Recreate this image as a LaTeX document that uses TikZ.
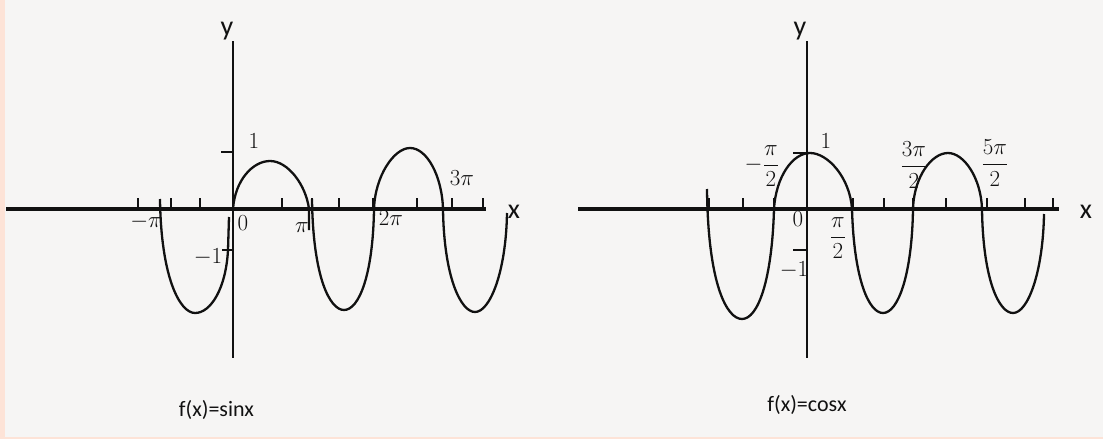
\documentclass[tikz,border=0pt]{standalone}
\usepackage{amsmath}
\usepackage{graphicx}
\usepackage{fontspec}
\newfontfamily\carlito{Carlito}
\usetikzlibrary{arrows.meta}
\definecolor{bgcol}{HTML}{F6F5F4}
\definecolor{edgecol}{HTML}{FDE3D7}
\definecolor{ink}{HTML}{111111}
\newcommand{\bigmath}[1]{\scalebox{1.33}{\fontsize{17.28}{20}\selectfont #1}}
\tikzset{
  axisline/.style={line width=3.4pt, draw=ink},
  yaxisline/.style={line width=2.2pt, draw=ink},
  tickmark/.style={line width=2pt, draw=ink},
  wave/.style={line width=2.3pt, draw=ink},
  numlab/.style={inner sep=0pt, text=ink},
  axlab/.style={font=\carlito\fontsize{28}{30}\selectfont, inner sep=0pt, text=ink},
  captionlab/.style={font=\carlito\fontsize{22}{26}\selectfont, inner sep=0pt, text=ink}
}
\begin{document}
\begin{tikzpicture}[x=1pt,y=-1pt]
\fill[edgecol] (0,0) rectangle (1103,439);
\fill[bgcol] (5,0) rectangle (1103,437);
\useasboundingbox (0,0) rectangle (1103,439);

% ---------- left graph: sin ----------
\coordinate (LxA) at (6,209);
\coordinate (LxB) at (486,209);
\coordinate (LyA) at (233,41);
\coordinate (LyB) at (233,358);
\draw[axisline] (LxA) -- (LxB);
\draw[yaxisline] (LyA) -- (LyB);
\foreach \t in {138,171,200,282,312,339,373,417,452,483}
  \draw[tickmark] (\t,198) -- (\t,209);
\draw[tickmark] (221,152) -- (233,152);
\draw[tickmark] (222,250) -- (233,250);

\draw[wave] (160,199) .. controls (161,278) and (180,313) .. (195,313)
  .. controls (211,313) and (226,288) .. (228,250) -- (229,217);
\draw[wave] (233,209) .. controls (235,180) and (253,161) .. (270,161)
  .. controls (288,161) and (306,185) .. (309,209) -- (309,230);
\draw[wave] (312,199) .. controls (313,278) and (330,310) .. (344,310)
  .. controls (359,310) and (373,275) .. (374,209)
  .. controls (375,176) and (394,148) .. (410,148)
  .. controls (427,148) and (442,176) .. (443,209)
  .. controls (444,278) and (461,312) .. (475,312)
  .. controls (490,312) and (506,272) .. (507,213);

\node[axlab] (Ly) at (227,31) {y};
\node[axlab] (Lx) at (514,212) {x};
\node[numlab] (L1) at (254,141) {\bigmath{1}};
\node[numlab] (Lm1) at (208,257) {\bigmath{$-1$}};
\node[numlab] (L0) at (243,223) {\bigmath{0}};
\node[numlab] (Lmpi) at (146,222) {\bigmath{$-\pi$}};
\node[numlab] (Lpi) at (302,228) {\bigmath{$\pi$}};
\node[numlab] (L2pi) at (391,218) {\bigmath{$2\pi$}};
\node[numlab] (L3pi) at (462,178) {\bigmath{$3\pi$}};
\node[captionlab] (Lcap) at (216.5,410) {f(x)=sinx};

% ---------- right graph: cos ----------
\coordinate (RxA) at (578,209);
\coordinate (RxB) at (1059,209);
\coordinate (RyA) at (807,41);
\coordinate (RyB) at (807,358);
\draw[axisline] (RxA) -- (RxB);
\draw[yaxisline] (RyA) -- (RyB);
\foreach \t in {709,743,774,853,884,913,946,987,1025,1053}
  \draw[tickmark] (\t,198) -- (\t,209);
\draw[tickmark] (793,153) -- (807,153);
\draw[tickmark] (793,250) -- (807,250);

\draw[wave] (707,189) .. controls (708,285) and (727,319) .. (742,319)
  .. controls (758,319) and (772,280) .. (774,209)
  .. controls (776,176) and (793,153) .. (810,153)
  .. controls (828,153) and (850,178) .. (852,209)
  .. controls (854,280) and (869,313) .. (883,313)
  .. controls (898,313) and (912,275) .. (913,209)
  .. controls (914,176) and (932,153) .. (948,153)
  .. controls (964,153) and (981,178) .. (982,209)
  .. controls (983,280) and (999,313) .. (1013,313)
  .. controls (1028,313) and (1043,272) .. (1044,214);

\node[axlab] (Ry) at (800,31) {y};
\node[axlab] (Rx) at (1086,212) {x};
\node[numlab] (R1) at (826,141) {\bigmath{1}};
\node[numlab] (Rm1) at (794,270) {\bigmath{$-1$}};
\node[numlab] (R0) at (798,219) {\bigmath{0}};
\node[numlab] (Rmpi2) at (762,166) {\bigmath{$-\dfrac{\pi}{2}$}};
\node[numlab] (Rpi2) at (838,238) {\bigmath{$\dfrac{\pi}{2}$}};
\node[numlab] (R3pi2) at (914,165) {\bigmath{$\dfrac{3\pi}{2}$}};
\node[numlab] (R5pi2) at (995,163) {\bigmath{$\dfrac{5\pi}{2}$}};
\node[captionlab] (Rcap) at (807,405) {f(x)=cosx};
\end{tikzpicture}
\end{document}
